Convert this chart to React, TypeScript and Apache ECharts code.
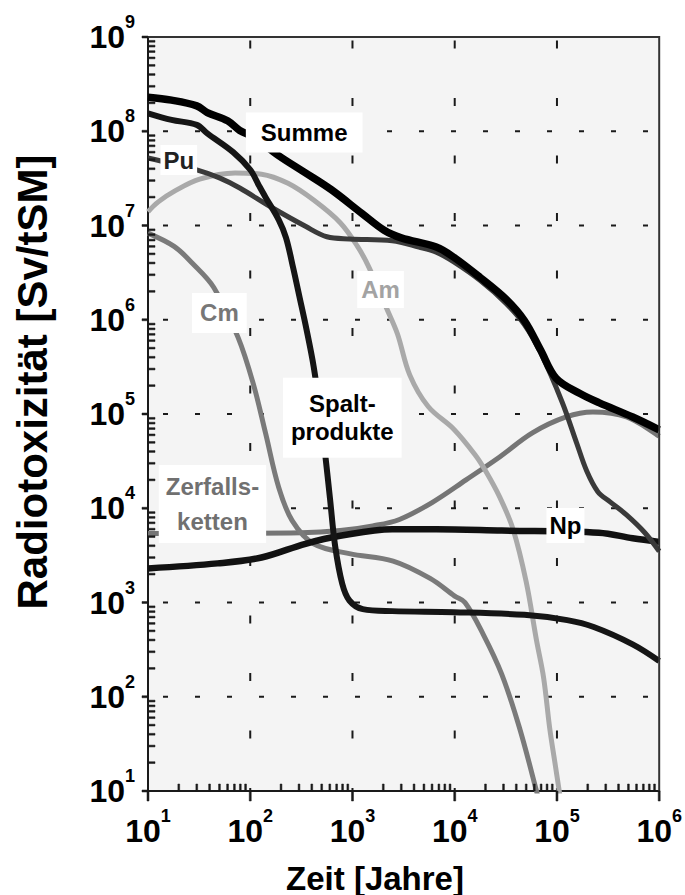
import React, { useEffect, useRef } from "react";
import * as echarts from "echarts";

const FONT = "'Liberation Sans', Arial, Helvetica, sans-serif";

// ---- data (x: Zeit in Jahren, y: Radiotoxizität in Sv/tSM) ----
const summe: [number, number][] = [
  [10, 2.3e8], [17, 2.14e8], [30, 1.86e8], [38, 1.58e8], [60, 1.29e8], [79, 1.02e8],
  [112, 8.5e7], [190, 5.5e7], [350, 3.6e7], [620, 2.4e7], [1230, 1.35e7], [2040, 8.9e6],
  [3000, 7.4e6], [6600, 5.9e6], [9800, 4.6e6], [17800, 2.8e6], [31600, 1.66e6],
  [48000, 9.8e5], [69000, 4.8e5], [98000, 2.4e5], [166000, 1.66e5], [257000, 1.32e5],
  [550000, 9.3e4], [1000000, 6.8e4],
];
const spalt: [number, number][] = [
  [10, 1.55e8], [17, 1.32e8], [30, 1.17e8], [38, 9.5e7], [68, 6.0e7], [100, 3.9e7],
  [123, 2.6e7], [141, 2.0e7], [190, 1.15e7], [224, 7.4e6], [263, 3.55e6], [302, 1.78e6],
  [355, 7.9e5], [417, 3.2e5], [479, 1.12e5], [537, 4.0e4], [603, 1.26e4], [676, 4.0e3],
  [794, 1.58e3], [933, 1.05e3], [1260, 8.5e2], [2450, 8.1e2], [9800, 7.9e2],
  [48000, 7.4e2], [126000, 6.5e2], [229000, 5.5e2], [550000, 3.6e2], [1000000, 2.4e2],
];
const pu: [number, number][] = [
  [10, 5.2e7], [30, 3.9e7], [50, 3.2e7], [79, 2.5e7], [158, 1.58e7], [347, 9.8e6],
  [562, 7.6e6], [933, 7.2e6], [2450, 6.9e6], [4470, 5.9e6], [6600, 5.2e6], [9800, 4.1e6],
  [17800, 2.6e6], [31600, 1.5e6], [48000, 8.9e5], [69000, 4.5e5], [112000, 1.35e5],
  [155000, 5.0e4], [195000, 2.5e4], [251000, 1.5e4], [331000, 1.17e4], [479000, 8.5e3],
  [724000, 5.5e3], [1000000, 3.5e3],
];
const am: [number, number][] = [
  [10, 1.4e7], [12.6, 1.78e7], [18, 2.3e7], [32, 3.1e7], [71, 3.6e7], [129, 3.5e7],
  [234, 2.8e7], [417, 1.86e7], [759, 1.07e7], [1120, 6.0e6], [1450, 3.6e6], [2140, 1.35e6],
  [2750, 7.1e5], [3630, 2.6e5], [5500, 1.2e5], [9800, 6.9e4], [15800, 3.7e4],
  [20000, 2.5e4], [27500, 1.32e4], [37200, 6.0e3], [50000, 1.66e3], [63000, 4.0e2],
  [74000, 1.6e2], [85000, 46], [95500, 20], [107000, 8.9],
];
const cm: [number, number][] = [
  [10, 8.3e6], [18, 6.0e6], [27, 4.0e6], [44, 2.2e6], [76, 6.5e5], [107, 2.1e5],
  [141, 6.3e4], [190, 1.66e4], [257, 7.4e3], [417, 4.2e3], [933, 3.3e3], [2500, 2.75e3],
  [5750, 1.8e3], [10000, 1.17e3], [12600, 1.0e3], [19000, 4.6e2], [28800, 1.74e2],
  [42700, 48], [63100, 10], [66000, 8],
];
const zerfall: [number, number][] = [
  [10, 5.4e3], [316, 5.5e3], [759, 5.8e3], [1580, 6.5e3], [2880, 7.6e3], [6000, 1.15e4],
  [12900, 2.0e4], [27500, 3.5e4], [57500, 6.3e4], [123000, 9.3e4], [224000, 1.05e5],
  [479000, 9.3e4], [1000000, 5.8e4],
];
const np: [number, number][] = [
  [10, 2.3e3], [48, 2.6e3], [129, 3.0e3], [347, 4.2e3], [759, 5.1e3], [2450, 6.0e3],
  [6600, 6.0e3], [28800, 5.8e3], [257000, 5.5e3], [550000, 4.8e3], [1000000, 4.4e3],
];

// labels anchored in data coordinates
const annotations = [
  { text: "Summe", x: 337, y: 9.7e7, color: "#000", padding: [6, 15], lineHeight: 28 },
  { text: "Pu", x: 20, y: 4.95e7, color: "#222", padding: [3, 3], lineHeight: 24 },
  { text: "Am", x: 1880, y: 2.1e6, color: "#a3a3a3", padding: [5, 4], lineHeight: 27 },
  { text: "Cm", x: 49.9, y: 1.18e6, color: "#777", padding: [6, 8], lineHeight: 28 },
  { text: "Spalt-\nprodukte", x: 795, y: 9.1e4, color: "#000", padding: [12, 8], lineHeight: 28 },
  { text: "Zerfalls-\nketten", x: 42.7, y: 1.11e4, color: "#707070", padding: [4, 7], lineHeight: 35 },
  { text: "Np", x: 121000, y: 6.56e3, color: "#000", padding: [4, 3], lineHeight: 27 },
];

const X_MIN = 10, X_MAX = 1e6, Y_MIN = 10, Y_MAX = 1e9;
const xMajor = [100, 1e3, 1e4, 1e5];
const yMajor = [100, 1e3, 1e4, 1e5, 1e6, 1e7, 1e8];
const minorSteps = [2, 3, 4, 5, 6, 7, 8, 9];
const xDecades = [10, 100, 1e3, 1e4, 1e5];
const yDecades = [10, 100, 1e3, 1e4, 1e5, 1e6, 1e7, 1e8];
const xMinor = xDecades.flatMap((d) => minorSteps.map((m) => m * d));
const yMinor = yDecades.flatMap((d) => minorSteps.map((m) => m * d));

const richLabel = {
  b: { fontSize: 32, fontWeight: "bold", fontFamily: FONT, color: "#000", lineHeight: 48 },
  s: { fontSize: 18, fontWeight: "bold", fontFamily: FONT, color: "#000", lineHeight: 18, verticalAlign: "top" },
};
const powLabel = (v: number) => `{b|10}{s|${Math.round(Math.log10(v))}}`;

const mkLine = (name: string, data: [number, number][], color: string, width: number, z: number, extra: any = {}) => ({
  type: "line",
  name,
  data,
  symbol: "none",
  showSymbol: false,
  smooth: 0.35,
  clip: true,
  silent: true,
  z,
  lineStyle: { color, width, cap: "butt", join: "round" },
  ...extra,
});

const AX = "#1a1a1a";

const dash = (x1: number, y1: number, x2: number, y2: number, extra: any = {}) => ({
  type: "line",
  shape: { x1, y1, x2, y2 },
  style: { fill: null, stroke: AX, lineWidth: 2, ...extra },
});

export default function App() {
  const ref = useRef<HTMLDivElement>(null);
  useEffect(() => {
    if (!ref.current) return;
    const chart = echarts.init(ref.current, undefined, { renderer: "svg" });
    chart.setOption({
      animation: false,
      backgroundColor: "#fff",
      grid: {
        left: 148, top: 37, right: 25, bottom: 104,
        show: false, containLabel: false,
      },
      xAxis: {
        type: "log", logBase: 10, min: X_MIN, max: X_MAX, splitNumber: 5,
        axisLine: { show: true, lineStyle: { color: AX, width: 2 } },
        axisTick: { show: false },
        axisLabel: { formatter: powLabel, rich: richLabel, margin: 16, showMinLabel: true, showMaxLabel: true },
        splitLine: { show: false },
        minorTick: { show: false },
      },
      yAxis: {
        type: "log", logBase: 10, min: Y_MIN, max: Y_MAX, splitNumber: 8,
        axisLine: { show: true, lineStyle: { color: AX, width: 2 } },
        axisTick: { show: false },
        axisLabel: { formatter: powLabel, rich: richLabel, margin: 13, showMinLabel: true, showMaxLabel: true },
        splitLine: { show: false },
        minorTick: { show: false },
      },
      series: [
        // plot background and dashed grid, placed through the axes' scales
        {
          type: "custom", silent: true, clip: false, z: 0,
          data: [[X_MIN, Y_MIN]],
          renderItem: (params: any, api: any) => {
            const a = api.coord([X_MIN, Y_MIN]);
            const b = api.coord([X_MAX, Y_MAX]);
            const children: any[] = [
              { type: "rect", shape: { x: a[0], y: b[1], width: b[0] - a[0], height: a[1] - b[1] }, style: { fill: "#f4f4f4", stroke: null } },
            ];
            xMajor.forEach((v) => {
              const p = api.coord([v, Y_MIN]);
              children.push(dash(p[0], b[1], p[0], a[1], { lineDash: [8, 49.5], lineDashOffset: 54 }));
            });
            yMajor.forEach((v) => {
              const p = api.coord([X_MIN, v]);
              children.push(dash(a[0], p[1], b[0], p[1], { lineDash: [5, 27], lineDashOffset: 17 }));
            });
            return { type: "group", children };
          },
        },
        mkLine("Zerfallsketten", zerfall, "#757575", 5, 2),
        mkLine("Cm", cm, "#7a7a7a", 5, 3),
        mkLine("Am", am, "#a9a9a9", 5, 4),
        mkLine("Np", np, "#111", 6.5, 5),
        mkLine("Pu", pu, "#3a3a3a", 5, 6),
        mkLine("Spaltprodukte", spalt, "#151515", 6, 7),
        mkLine("Summe", summe, "#000", 7.5, 8, {
          markPoint: {
            symbol: "rect", symbolSize: 1, silent: true, z: 20,
            itemStyle: { color: "rgba(0,0,0,0)" },
            data: annotations.map((a) => ({
              name: a.text,
              coord: [a.x, a.y],
              label: {
                show: true, position: "inside", formatter: a.text, color: a.color,
                backgroundColor: "#fff", padding: a.padding, fontSize: 24, fontWeight: "bold",
                fontFamily: FONT, lineHeight: a.lineHeight, align: "center",
              },
            })),
          },
        }),
      ],
    });

    // frame and ticks: positions come from the axes' own scales
    const px = (x: number, y: number) => chart.convertToPixel({ gridIndex: 0 }, [x, y]) as number[];
    const a = px(X_MIN, Y_MIN);
    const b = px(X_MAX, Y_MAX);
    const poly = (pts: number[][], w = 2, color = AX) => ({
      type: "polyline", z: 100, silent: true,
      shape: { points: pts },
      style: { stroke: color, lineWidth: w, fill: "none" },
    });
    const rect = (x: number, y: number, w: number, h: number, fill = AX) => ({
      type: "rect", z: 100, silent: true,
      shape: { x, y, width: w, height: h },
      style: { fill, stroke: fill, lineWidth: 0.5 },
    });
    const els: any[] = [
      {
        type: "text", x: 32, y: 382, rotation: Math.PI / 2, z: 100,
        style: {
          text: "Radiotoxizität [Sv/tSM]", fontSize: 42, fontWeight: "bold", fontFamily: FONT,
          fill: "#000", align: "center", verticalAlign: "middle",
        },
      },
      {
        type: "text", x: 375, y: 878, z: 100,
        style: {
          text: "Zeit [Jahre]", fontSize: 33, fontWeight: "bold", fontFamily: FONT,
          fill: "#000", align: "center", verticalAlign: "middle",
        },
      },
      poly([[a[0], b[1]], [b[0], b[1]], [b[0], a[1]]], 2, "#333"),
    ];
    [X_MIN, ...xMajor, X_MAX].forEach((v) => {
      const p = px(v, Y_MIN);
      els.push(rect(p[0] - 1, a[1], 2, 10));
    });
    [Y_MIN, ...yMajor, Y_MAX].forEach((v) => {
      const p = px(X_MIN, v);
      els.push(rect(a[0] - 6, p[1] - 1, 6, 2));
    });
    xMinor.forEach((v) => {
      const p = px(v, Y_MIN);
      els.push(rect(p[0] - 0.9, a[1] - 7, 1.8, 7));
    });
    yMinor.forEach((v) => {
      const p = px(X_MIN, v);
      els.push(rect(a[0], p[1] - 0.9, 7, 1.8));
    });
    chart.setOption({ graphic: { elements: els } });

    return () => chart.dispose();
  }, []);
  return (
    <div
      ref={ref}
      style={{ position: "fixed", left: 0, top: 0, width: 685, height: 895, background: "#fff" }}
    />
  );
}
